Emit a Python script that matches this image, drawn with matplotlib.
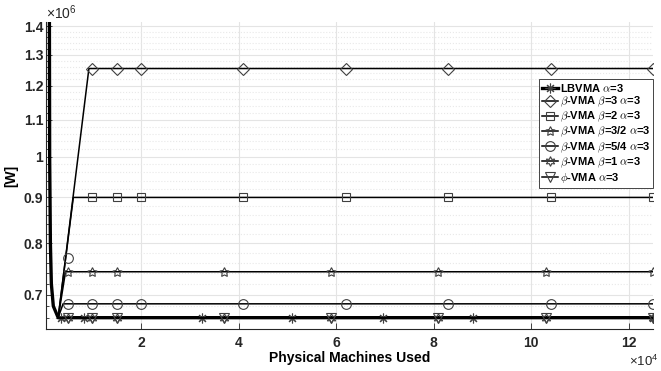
import numpy as np
import matplotlib.pyplot as plt
from matplotlib.ticker import FixedLocator, NullFormatter

plt.rcParams['font.family'] = ['Liberation Sans', 'DejaVu Sans']
plt.rcParams['font.weight'] = 'bold'
plt.rcParams['mathtext.fontset'] = 'cm'

# power [W] vs. number of physical machines
lb_x = [1200, 1250, 1400, 1600, 2000, 3000, 3600, 8200, 32500, 51000, 69600, 88000, 125000]
lb_y = [1.415e6, 1.0e6, 0.8e6, 0.72e6, 0.68e6, 0.66e6, 0.66e6, 0.66e6, 0.66e6, 0.66e6, 0.66e6, 0.66e6, 0.66e6]
lb_marks = [6, 7, 8, 9, 10, 11, 12]

b3_x = [3000, 9300, 10000, 15000, 20000, 41000, 62000, 83000, 104000, 125000]
b3_y = [0.66e6] + [1.255e6] * 9

b2_x = [3000, 6100, 10000, 15000, 20000, 41000, 62000, 83000, 104000, 125000]
b2_y = [0.66e6] + [0.9e6] * 9

b32_x = [3000, 4500, 5000, 10000, 15000, 37000, 59000, 81000, 103000, 125000]
b32_y = [0.66e6] + [0.743e6] * 9

b54_x = [3000, 4000, 5000, 10000, 15000, 20000, 41000, 62000, 83000, 104000, 125000]
b54_y = [0.66e6] + [0.684e6] * 10
b54_extra_x = [5000]
b54_extra_y = [0.77e6]

b1_x = [3000, 5000, 10000, 15000, 37000, 59000, 81000, 103000, 125000]
b1_y = [0.66e6] * 9

phi_x = [3000, 5000, 10000, 15000, 37000, 59000, 81000, 103000, 125000]
phi_y = [0.66e6] * 9

yticks = [0.7e6, 0.8e6, 0.9e6, 1.0e6, 1.1e6, 1.2e6, 1.3e6, 1.4e6]
ytick_labels = ['0.7', '0.8', '0.9', '1', '1.1', '1.2', '1.3', '1.4']
xticks = [20000, 40000, 60000, 80000, 100000, 120000]
xtick_labels = ['2', '4', '6', '8', '10', '12']

fig = plt.figure(figsize=(6.61, 3.71), dpi=100)
ax = fig.add_axes([46 / 661, 42 / 371, 607 / 661, 307 / 371])

mk = dict(markerfacecolor='none', markeredgecolor='#404040', markeredgewidth=0.8)

ax.plot(lb_x, lb_y, '-', color='k', lw=2.4, marker=(8, 2, 0), markersize=7,
        markevery=lb_marks, label=r'LBVMA $\alpha$=3', **mk)
ax.plot(b3_x, b3_y, '-', color='k', lw=1.1, marker='D', markersize=6,
        markevery=list(range(2, 10)), label=r'$\beta$-VMA $\beta$=3 $\alpha$=3', **mk)
ax.plot(b2_x, b2_y, '-', color='k', lw=1.1, marker='s', markersize=6,
        markevery=list(range(2, 10)), label=r'$\beta$-VMA $\beta$=2 $\alpha$=3', **mk)
ax.plot(b32_x, b32_y, '-', color='k', lw=1.1, marker=(5, 1, 0), markersize=7,
        markevery=list(range(2, 10)), label=r'$\beta$-VMA $\beta$=3/2 $\alpha$=3', **mk)
ax.plot(b54_x, b54_y, '-', color='k', lw=1.1, marker='o', markersize=7,
        markevery=list(range(2, 11)), label=r'$\beta$-VMA $\beta$=5/4 $\alpha$=3', **mk)
ax.plot(b54_extra_x, b54_extra_y, 'none', marker='o', markersize=7, **mk)
ax.plot(b1_x, b1_y, '-', color='k', lw=1.1, marker=(6, 1, 0), markersize=7,
        markevery=list(range(1, 9)), label=r'$\beta$-VMA $\beta$=1 $\alpha$=3', **mk)
ax.plot(phi_x, phi_y, '-', color='k', lw=1.1, marker='v', markersize=7,
        markevery=list(range(1, 9)), label=r'$\phi$-VMA $\alpha$=3', **mk)

ax.set_yscale('log')
ax.set_xlim(500, 125000)
ax.set_ylim(6.41e5, 1.415e6)

ax.yaxis.set_major_locator(FixedLocator(yticks))
ax.set_yticklabels(ytick_labels)
minor = [v * 1e4 for v in range(64, 142, 2) if v % 10 != 0]
ax.yaxis.set_minor_locator(FixedLocator(minor))
ax.yaxis.set_minor_formatter(NullFormatter())
ax.set_xticks(xticks)
ax.set_xticklabels(xtick_labels)

ax.grid(which='major', color='#e4e4e4', lw=0.8)
ax.grid(which='minor', axis='y', color='#e8e8e8', ls=':', lw=0.8)
ax.set_axisbelow(True)

for s in ['top', 'right']:
    ax.spines[s].set_visible(False)
for s in ['left', 'bottom']:
    ax.spines[s].set_color('#262626')
    ax.spines[s].set_linewidth(0.8)

ax.tick_params(axis='both', which='both', direction='in', colors='#262626',
               labelsize=10, width=0.6)
ax.tick_params(axis='y', which='major', length=4, pad=2)
ax.tick_params(axis='y', which='minor', length=2)
ax.tick_params(axis='x', which='major', length=4, pad=5)

ax.set_xlabel('Physical Machines Used', fontsize=10, fontweight='bold', labelpad=1)
ax.set_ylabel('[W]', fontsize=10, fontweight='bold', labelpad=4)

fig.text(46 / 661, 1 - 19 / 371, r'$\mathregular{\times10^{6}}$', fontsize=10,
         fontweight='normal', color='#262626', ha='left', va='baseline')
fig.text(658 / 661, 1 - 366 / 371, r'$\mathregular{\times10^{4}}$', fontsize=9.5,
         fontweight='normal', color='#262626', ha='right', va='baseline')

leg = ax.legend(loc='upper right', bbox_to_anchor=(1.0, 0.814), fontsize=8,
                handlelength=1.4, handletextpad=0.2, labelspacing=0.08,
                borderpad=0.25, borderaxespad=0.0, fancybox=False, framealpha=1)
leg.get_frame().set_edgecolor('#262626')
leg.get_frame().set_linewidth(0.6)

fig.savefig('out.png', dpi=100)
